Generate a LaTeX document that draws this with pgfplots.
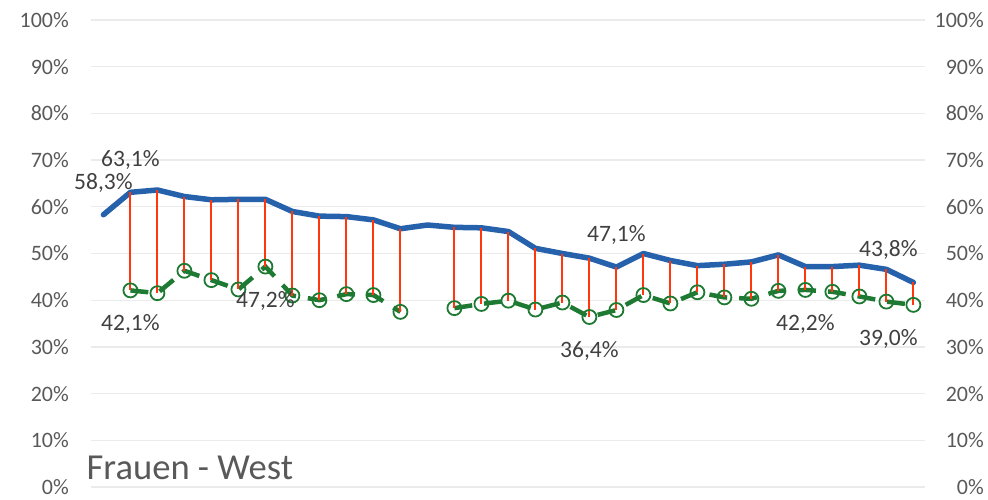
\documentclass[border=0pt]{standalone}
\usepackage{pgfplots}
\usepackage{pgfplotstable}
\pgfplotsset{compat=1.18}
\usepackage{fontspec}
\setmainfont{Carlito}
\definecolor{cblue}{RGB}{38,98,172}
\definecolor{cgreen}{RGB}{30,122,50}
\definecolor{cred}{RGB}{255,55,10}
\definecolor{ctick}{RGB}{89,89,89}
\definecolor{clab}{RGB}{64,64,64}
\definecolor{cgrid}{RGB}{235,235,235}

\pgfplotstableread{
i blue green
0 58.3 nan
1 63.1 42.1
2 63.6 41.5
3 62.2 46.3
4 61.5 44.3
5 61.6 42.3
6 61.6 47.2
7 59.0 41.0
8 58.0 40.0
9 57.9 41.3
10 57.2 41.1
11 55.3 37.5
12 56.1 nan
13 55.6 38.3
14 55.5 39.2
15 54.7 39.9
16 51.1 38.0
17 50.0 39.5
18 49.0 36.4
19 47.1 37.9
20 50.0 41.1
21 48.5 39.3
22 47.4 41.7
23 47.7 40.6
24 48.2 40.3
25 49.7 42.0
26 47.2 42.2
27 47.2 41.8
28 47.5 40.8
29 46.6 39.7
30 43.8 39.0
}\data

\pgfplotstableread{
i top bot
1 63.1 42.1
2 63.6 41.5
3 62.2 46.3
4 61.5 44.3
5 61.6 42.3
6 61.6 47.2
7 59.0 41.0
8 58.0 40.0
9 57.9 41.3
10 57.2 41.1
11 55.3 37.5
13 55.6 38.3
14 55.5 39.2
15 54.7 39.9
16 51.1 38.0
17 50.0 39.5
18 49.0 36.4
19 47.1 37.9
20 50.0 41.1
21 48.5 39.3
22 47.4 41.7
23 47.7 40.6
24 48.2 40.3
25 49.7 42.0
26 47.2 42.2
27 47.2 41.8
28 47.5 40.8
29 46.6 39.7
30 43.8 39.0
}\drops

\begin{document}
\begin{tikzpicture}
\pgfplotsset{
  base/.style={
    at={(0,0)}, anchor=south west,
    scale only axis, width=834pt, height=467pt,
    xmin=-0.46, xmax=30.43, ymin=0, ymax=100,
    xtick=\empty, ytick={0,10,...,100},
    axis line style={draw=none},
    major tick length=0pt,
    /pgf/number format/assume math mode=true,
    yticklabel={\pgfmathprintnumber{\tick}\%},
    tick label style={font=\fontsize{22}{24}\selectfont, text=ctick},
    clip=false,
  },
  lab/.style={
    draw=none, mark=none, point meta=y,
    nodes near coords={\pgfmathprintnumber[fixed,fixed zerofill,precision=1,use comma]{\pgfplotspointmeta}\%},
    every node near coord/.append style={font=\fontsize{23.5}{25}\selectfont, text=clab, anchor=base, inner sep=0pt},
  },
}
\begin{axis}[base,
  ymajorgrids, grid style={cgrid, line width=1.3pt},
  yticklabel style={inner sep=0pt, anchor=east, xshift=-22pt},
]
\addplot[cblue, line width=5.5pt, line join=round, line cap=round] table[x=i, y=blue] {\data};
\addplot[cgreen, line width=4.5pt, dash pattern=on 18pt off 12pt, unbounded coords=jump,
  mark=o, mark size=7pt, mark options={solid, line width=1.8pt, cgreen}] table[x=i, y=green] {\data};
\addplot[cred, draw=none, mark=none, forget plot,
  error bars/.cd, y dir=minus, y explicit, error mark=none,
  error bar style={draw=cred, color=cred, line width=2pt}] table[x=i, y=top, y error expr=\thisrow{top}-\thisrow{bot}] {\drops};
% labels above
\addplot[lab, every node near coord/.append style={yshift=25.6pt}] coordinates {(0,58.3) (1,63.1) (19,47.1)};
\addplot[lab, every node near coord/.append style={yshift=25.6pt, xshift=-25pt}] coordinates {(30,43.8)};
% labels below
\addplot[lab, every node near coord/.append style={yshift=-40.5pt}] coordinates {(1,42.1) (6,47.2) (18,36.4) (26,42.2)};
\addplot[lab, every node near coord/.append style={yshift=-40.5pt, xshift=-25pt}] coordinates {(30,39.0)};
\node[anchor=base west, inner sep=0pt, font=\fontsize{36.6}{39}\selectfont, text=ctick]
  at ([xshift=-4.5pt, yshift=8pt]rel axis cs:0,0) {Frauen - West};
\end{axis}
\begin{axis}[base,
  yticklabel pos=right,
  yticklabel style={inner sep=0pt, anchor=east, xshift=59pt},
]
\end{axis}
\pgfresetboundingbox
\path[use as bounding box] (-91pt,-12pt) rectangle (897pt,487pt);
\end{tikzpicture}
\end{document}
